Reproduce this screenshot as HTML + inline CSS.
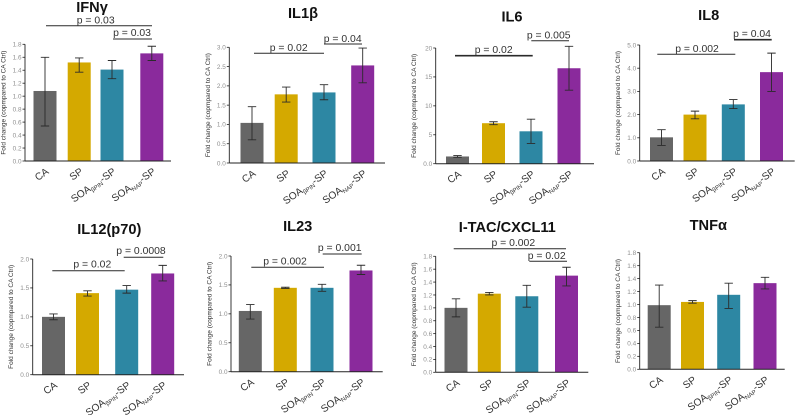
<!DOCTYPE html>
<html lang="en">
<head>
<meta charset="utf-8">
<title>Cytokine fold change bar charts</title>
<style>
  html, body { margin: 0; padding: 0; background: #fff; overflow: hidden; }
  svg { display: block; font-family: "Liberation Sans", "DejaVu Sans", sans-serif; filter: blur(0.3px); }
  .title { font-size: 14.6px; font-weight: bold; fill: #111; text-anchor: middle; }
  .pval { font-size: 10.4px; fill: #333; text-anchor: middle; }
  .bracket { stroke: #2a2a2a; stroke-width: 1; }
</style>
</head>
<body>
<svg id="chart" width="798" height="415" viewBox="0 0 798 415" xmlns="http://www.w3.org/2000/svg">
  <g>
    <text class="title" x="92" y="12">IFNγ</text>
    <text class="pval" x="95.7" y="23.5">p = 0.03</text>
    <line class="bracket" x1="46" x2="152" y1="25.7" y2="25.7"/>
    <text class="pval" x="132" y="36">p = 0.03</text>
    <line class="bracket" x1="113" x2="152" y1="39" y2="39"/>
  </g>
  <g>
    <text class="title" x="303" y="18">IL1β</text>
    <text class="pval" x="288.7" y="51">p = 0.02</text>
    <line class="bracket" x1="254" x2="324" y1="53.3" y2="53.3"/>
    <text class="pval" x="342.7" y="42">p = 0.04</text>
    <line class="bracket" x1="324" x2="362" y1="44" y2="44"/>
  </g>
  <g>
    <text class="title" x="512" y="21.5">IL6</text>
    <text class="pval" x="493.7" y="53">p = 0.02</text>
    <line class="bracket" style="stroke-width:1.6" x1="455" x2="532.7" y1="55.7" y2="55.7"/>
    <text class="pval" x="548.7" y="38.5">p = 0.005</text>
    <line class="bracket" x1="531.3" x2="569" y1="40.7" y2="40.7"/>
  </g>
  <g>
    <text class="title" x="708.7" y="20">IL8</text>
    <text class="pval" x="697" y="52">p = 0.002</text>
    <line class="bracket" x1="657.3" x2="735.3" y1="54.3" y2="54.3"/>
    <text class="pval" x="752" y="37">p = 0.04</text>
    <line class="bracket" style="stroke-width:1.6" x1="734" x2="771.7" y1="39.7" y2="39.7"/>
  </g>
  <g>
    <text class="title" x="109.3" y="234">IL12(p70)</text>
    <text class="pval" x="92.3" y="267.5">p = 0.02</text>
    <line class="bracket" x1="52.3" x2="124.7" y1="270.7" y2="270.7"/>
    <text class="pval" x="141" y="254">p = 0.0008</text>
    <line class="bracket" x1="123.7" x2="163.3" y1="257.3" y2="257.3"/>
  </g>
  <g>
    <text class="title" x="297.7" y="231">IL23</text>
    <text class="pval" x="285" y="264.5">p = 0.002</text>
    <line class="bracket" x1="251.3" x2="324" y1="267.3" y2="267.3"/>
    <text class="pval" x="339.7" y="251">p = 0.001</text>
    <line class="bracket" x1="322.7" x2="361.7" y1="254" y2="254"/>
  </g>
  <g>
    <text class="title" x="507.3" y="232">I-TAC/CXCL11</text>
    <text class="pval" x="513.3" y="246">p = 0.002</text>
    <line class="bracket" x1="453.7" x2="566" y1="248.7" y2="248.7"/>
    <text class="pval" x="546.7" y="259">p = 0.02</text>
    <line class="bracket" x1="529.3" x2="567" y1="261.3" y2="261.3"/>
  </g>
  <g>
    <text class="title" x="708.3" y="230">TNFα</text>
  </g>
</svg>
<script>
// ---- Data ----
const categories = ["CA", "SP", "SOA|βPIN|-SP", "SOA|NAP|-SP"];
const barColors = ["#666666", "#d4a900", "#2d87a3", "#8a2a9c"];

const ifngValues = [1.08, 1.52, 1.41, 1.66];
const ifngHigh = [1.60, 1.59, 1.55, 1.77];
const ifngLow = [0.54, 1.37, 1.27, 1.55];
const ifngTicks = ["0.0", "0.2", "0.4", "0.6", "0.8", "1.0", "1.2", "1.4", "1.6", "1.8"];

const il1bValues = [1.04, 1.78, 1.83, 2.53];
const il1bHigh = [1.46, 1.97, 2.03, 2.98];
const il1bLow = [0.60, 1.58, 1.64, 2.08];
const il1bTicks = ["0.0", "0.5", "1.0", "1.5", "2.0", "2.5", "3.0"];

const il6Values = [1.25, 7.0, 5.6, 16.5];
const il6High = [1.4, 7.25, 7.7, 20.3];
const il6Low = [1.1, 6.75, 3.5, 12.7];
const il6Ticks = ["0.0", "5", "10", "15", "20"];

const il8Values = [1.02, 2.0, 2.44, 3.83];
const il8High = [1.35, 2.15, 2.65, 4.65];
const il8Low = [0.67, 1.82, 2.26, 3.0];
const il8Ticks = ["0.0", "1.0", "2.0", "3.0", "4.0", "5.0"];

const il12Values = [1.0, 1.41, 1.47, 1.75];
const il12High = [1.05, 1.45, 1.54, 1.89];
const il12Low = [0.95, 1.36, 1.41, 1.62];
const il12Ticks = ["0.0", "0.5", "1.0", "1.5", "2.0"];

const il23Values = [1.05, 1.45, 1.45, 1.75];
const il23High = [1.16, 1.46, 1.51, 1.84];
const il23Low = [0.91, 1.44, 1.39, 1.68];
const il23Ticks = ["0.0", "0.5", "1.0", "1.5", "2.0"];

const itacValues = [1.0, 1.22, 1.18, 1.5];
const itacHigh = [1.14, 1.24, 1.35, 1.63];
const itacLow = [0.86, 1.2, 1.01, 1.34];
const itacTicks = ["0.0", "0.2", "0.4", "0.6", "0.8", "1.0", "1.2", "1.4", "1.6", "1.8"];

const tnfaValues = [0.99, 1.04, 1.15, 1.33];
const tnfaHigh = [1.30, 1.06, 1.33, 1.42];
const tnfaLow = [0.65, 1.02, 0.94, 1.24];
const tnfaTicks = ["0.0", "0.2", "0.4", "0.6", "0.8", "1.0", "1.2", "1.4", "1.6", "1.8"];

const yAxisTitle = "Fold change (copmpared to CA Ctrl)";

// ---- Panel frames (layout only; the numbers come from the arrays above) ----
const panels = [
  { key: "ifng", values: ifngValues, high: ifngHigh, low: ifngLow, ticks: ifngTicks,
    frame: { left: 25, right: 171, top: 44.3, bottom: 161 }, slots: [45, 79.2, 112, 151.8] },
  { key: "il1b", values: il1bValues, high: il1bHigh, low: il1bLow, ticks: il1bTicks,
    frame: { left: 229.3, right: 385, top: 47.3, bottom: 163 }, slots: [252, 286.2, 324, 362.7] },
  { key: "il6", values: il6Values, high: il6High, low: il6Low, ticks: il6Ticks,
    frame: { left: 435.7, right: 594, top: 48, bottom: 163.7 }, slots: [457.5, 493.5, 531, 569] },
  { key: "il8", values: il8Values, high: il8High, low: il8Low, ticks: il8Ticks,
    frame: { left: 639.7, right: 794.7, top: 45, bottom: 161 }, slots: [661.5, 695, 733.3, 771.5] },
  { key: "il12", values: il12Values, high: il12High, low: il12Low, ticks: il12Ticks,
    frame: { left: 32.7, right: 184, top: 259, bottom: 374.7 }, slots: [53.5, 87.5, 126.7, 162.7] },
  { key: "il23", values: il23Values, high: il23High, low: il23Low, ticks: il23Ticks,
    frame: { left: 231, right: 382.7, top: 256, bottom: 371.7 }, slots: [250.3, 285.3, 322, 361] },
  { key: "itac", values: itacValues, high: itacHigh, low: itacLow, ticks: itacTicks,
    frame: { left: 435.7, right: 588.3, top: 256.3, bottom: 372.3 }, slots: [456, 489.3, 526.8, 566.5] },
  { key: "tnfa", values: tnfaValues, high: tnfaHigh, low: tnfaLow, ticks: tnfaTicks,
    frame: { left: 639.7, right: 784.7, top: 252.7, bottom: 369.3 }, slots: [659.2, 692.5, 728.7, 765] }
];

const svg = document.getElementById("chart");
const NS = "http://www.w3.org/2000/svg";

function make(tag, parent, attrs) {
  const el = document.createElementNS(NS, tag);
  for (const k in attrs) el.setAttribute(k, attrs[k]);
  parent.appendChild(el);
  return el;
}

function yScale(frame, maxValue, v) {
  return frame.bottom - (v / maxValue) * (frame.bottom - frame.top);
}

function xScale(panel, i) {
  return panel.slots[i];
}

const BAR_WIDTH = 23;
const CAP_HALF = 4.2;

panels.forEach(function (panel) {
  const f = panel.frame;
  const maxValue = parseFloat(panel.ticks[panel.ticks.length - 1]);
  const g = make("g", svg, {});
  
  

  panel.values.forEach(function (v, i) {
    const cx = xScale(panel, i);
    const y = yScale(f, maxValue, v);
    const bar = make("rect", g, { x: cx - BAR_WIDTH / 2, y: y, width: BAR_WIDTH, height: f.bottom - y, fill: barColors[i] });
    
    

    const yHi = yScale(f, maxValue, panel.high[i]);
    const yLo = yScale(f, maxValue, panel.low[i]);
    const err = make("path", g, {
      d: "M" + cx + " " + yHi + "V" + yLo +
         "M" + (cx - CAP_HALF) + " " + yHi + "H" + (cx + CAP_HALF) +
         "M" + (cx - CAP_HALF) + " " + yLo + "H" + (cx + CAP_HALF),
      stroke: "#2b2b2b", "stroke-width": 0.9, fill: "none"
    });
    
    

    const parts = categories[i].split("|");
    const labelX = cx + 4.5;
    const labelY = f.bottom + 12;
    const label = make("text", g, {
      x: labelX, y: labelY, "text-anchor": "end", "font-size": 10.2, fill: "#333",
      transform: "rotate(-35 " + labelX + " " + labelY + ")"
    });
    
    
    if (parts.length === 1) {
      label.textContent = parts[0];
    } else {
      const a = make("tspan", label, {}); a.textContent = parts[0];
      const b = make("tspan", label, { "font-size": 6, dy: 2 }); b.textContent = parts[1];
      const c = make("tspan", label, { dy: -2 }); c.textContent = parts[2];
    }
  });

  const xAxis = make("line", g, { x1: f.left, x2: f.right, y1: f.bottom, y2: f.bottom, stroke: "#222", "stroke-width": 1 });
  
  
  const yAxis = make("line", g, { x1: f.left, x2: f.left, y1: f.top, y2: f.bottom, stroke: "#222", "stroke-width": 0.9 });
  
  

  panel.ticks.forEach(function (t) {
    const y = yScale(f, maxValue, parseFloat(t));
    const tick = make("line", g, { x1: f.left - 2.5, x2: f.left, y1: y, y2: y, stroke: "#222", "stroke-width": 0.8 });
    
    
    const tl = make("text", g, { x: f.left - 3.5, y: y + 2.3, "text-anchor": "end", "font-size": 6.4, fill: "#8f8f8f" });
    tl.textContent = t;
    
    
  });

  const tx = f.left - 19.5;
  const ty = (f.top + f.bottom) / 2;
  const yt = make("text", g, {
    x: tx, y: ty, "text-anchor": "middle", "font-size": 6.5, fill: "#333",
    transform: "rotate(-90 " + tx + " " + ty + ")"
  });
  yt.textContent = yAxisTitle;
  
  
});
</script>
</body>
</html>
